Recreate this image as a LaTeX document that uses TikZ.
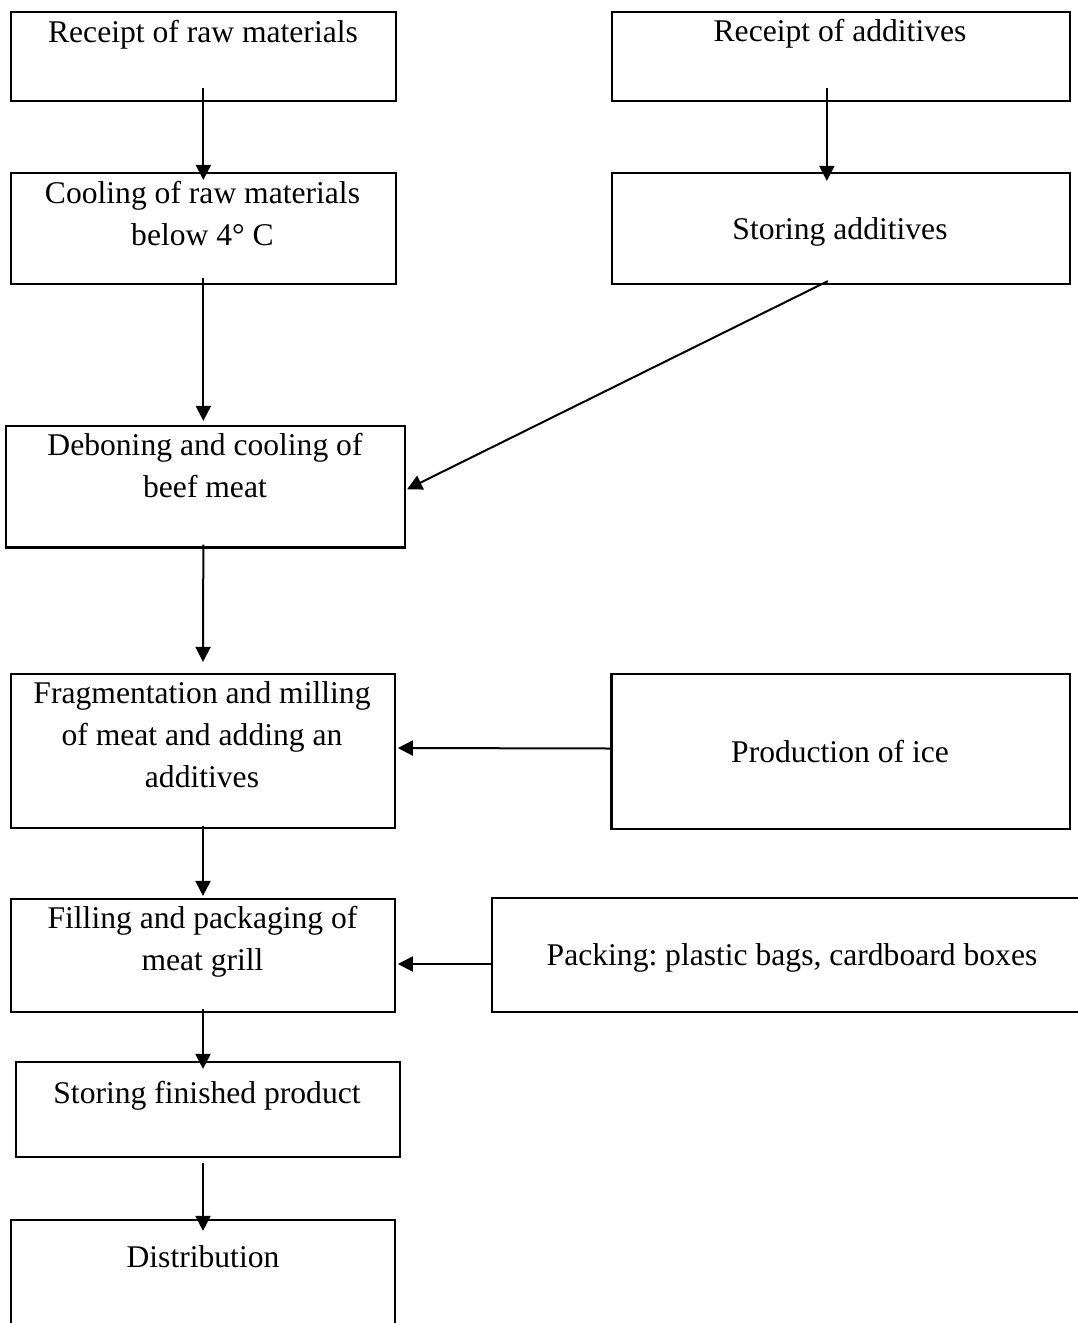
\documentclass[tikz,border=0pt]{standalone}
\usepackage{fontspec}
\setmainfont{Liberation Serif}
\usetikzlibrary{arrows.meta}
\newcommand{\fl}{\rule{0pt}{26pt}}
\frenchspacing
\begin{document}
\begin{tikzpicture}[x=1pt,y=-1pt,
  box/.style={draw, line width=2.2pt, inner sep=0pt, rectangle},
  txt/.style={anchor=north, inner sep=0pt, align=center, font=\fontsize{31.6}{42}\selectfont\frenchspacing},
  flow/.style={line width=2pt, -{Triangle[length=15pt,width=15pt]}}]
\useasboundingbox (0,0) rectangle (1078,1323);
\clip (0,0) rectangle (1078,1323);
% boxes
\node[box, minimum width=385.3pt, minimum height=89pt] (b1) at (203.35,56.5) {};
\node[box, minimum width=458.3pt, minimum height=89pt] (b2) at (840.85,56.5) {};
\node[box, minimum width=385.3pt, minimum height=111pt] (b3) at (203.35,228.5) {};
\node[box, minimum width=458.3pt, minimum height=111pt] (b4) at (840.85,228.5) {};
\node[box, minimum width=399.3pt, minimum height=121.5pt] (b5) at (205.35,486.75) {};
\node[box, minimum width=384pt, minimum height=154pt] (b6) at (203,751) {};
\node[box, minimum width=458.5pt, minimum height=155pt] (b7) at (840.75,751.5) {};
\node[box, minimum width=384pt, minimum height=113pt] (b8) at (203,955.5) {};
\node[box, minimum width=600pt, minimum height=114pt] (b9) at (792,955) {};
\node[box, minimum width=384.3pt, minimum height=95pt] (b10) at (207.85,1109.5) {};
\node[box, minimum width=384pt, minimum height=120pt] (b11) at (203,1280) {};
% texts (y = baseline - 26)
\node[txt] (t1) at (203,16.5) {\fl Receipt of raw materials};
\node[txt] (t2) at (840,15.5) {\fl Receipt of additives};
\node[txt] (t3) at (202.5,177.5) {\fl Cooling of raw materials\\below 4° C};
\node[txt] (t4) at (840,213.5) {\fl Storing additives};
\node[txt] (t5) at (205,429.5) {\fl Deboning and cooling of\\beef meat};
\node[txt] (t6) at (202,677.5) {\fl Fragmentation and milling\\of meat and adding an\\additives};
\node[txt] (t7) at (840,736.5) {\fl Production of ice};
\node[txt] (t8) at (202.5,902.5) {\fl Filling and packaging of\\meat grill};
\node[txt] (t9) at (792,939.5) {\fl Packing: plastic bags, cardboard boxes};
\node[txt] (t10) at (207,1077.5) {\fl Storing finished product};
\node[txt] (t11) at (203,1241.5) {\fl Distribution};
% connectors
\draw[flow] ([yshift=14pt]b1.south) -- ([yshift=-8pt]b3.north);
\draw[flow] ([xshift=-14pt,yshift=14pt]b2.south) -- ([xshift=-14pt,yshift=-9pt]b4.north);
\draw[flow] ([yshift=7pt]b3.south) -- ([xshift=-2pt,yshift=4pt]b5.north);
\draw[flow] ([xshift=-13pt,yshift=4pt]b4.south) -- ([xshift=1pt,yshift=-2.5pt]b5.east);
\draw[flow] ([xshift=-2pt,yshift=4pt]b5.south) -- ([yshift=11pt]b6.north);
\draw[flow] ([yshift=3pt]b7.west) -- ([xshift=1.7pt,yshift=3pt]b6.east);
\draw[flow] ([yshift=3pt]b6.south) -- ([yshift=2pt]b8.north);
\draw[flow] ([yshift=-9pt]b9.west) -- ([xshift=1.7pt,yshift=-8.5pt]b8.east);
\draw[flow] ([yshift=4pt]b8.south) -- ([xshift=-4.85pt,yshift=-8pt]b10.north);
\draw[flow] ([xshift=-4.85pt,yshift=-5pt]b10.south) -- ([yshift=-12pt]b11.north);
\end{tikzpicture}
\end{document}
